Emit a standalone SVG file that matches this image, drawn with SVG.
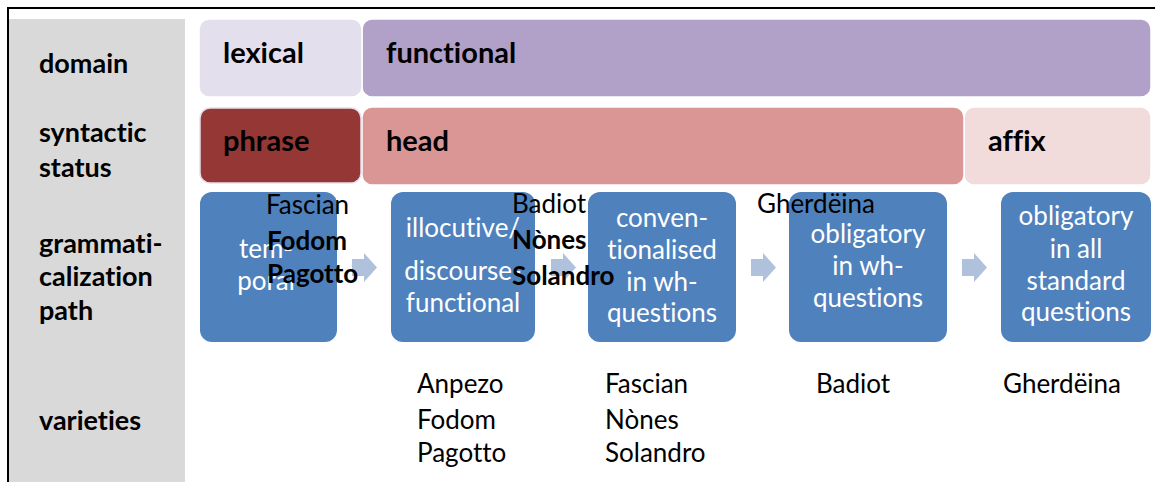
<svg xmlns="http://www.w3.org/2000/svg" width="1155" height="482" viewBox="0 0 1155 482">
  <style>
    text { font-variant-ligatures: none; font-feature-settings: "liga" 0, "clig" 0, "dlig" 0; }
    .lbl { font-family: Lato, "Liberation Sans", sans-serif; font-weight: bold; font-size: 27px; fill: #000; }
    .hdr { font-family: Lato, "Liberation Sans", sans-serif; font-weight: bold; font-size: 29px; fill: #000; }
    .wt { font-family: Lato, "Liberation Sans", sans-serif; font-size: 26px; fill: #fff; text-anchor: middle; }
    .bk { font-family: Lato, "Liberation Sans", sans-serif; font-size: 26px; fill: #000; }
    .bkb { font-family: Lato, "Liberation Sans", sans-serif; font-size: 26px; font-weight: bold; fill: #000; }
    .step { fill: #4F81BD; }
    .arrow { fill: #B0C1DC; }
    .band { stroke: #ffffff; stroke-width: 1.5; }
  </style>
  <rect x="0" y="0" width="1155" height="482" fill="#ffffff"/>
  <rect x="8" y="8" width="1170" height="490" fill="none" stroke="#000" stroke-width="2"/>
  <rect x="9" y="19" width="176" height="470" fill="#D9D9D9"/>

  <g id="row-labels">
    <text class="lbl" x="39" y="73">domain</text>
    <text class="lbl" x="39" y="142">syntactic</text>
    <text class="lbl" x="39" y="177">status</text>
    <text class="lbl" x="39" y="253">grammati-</text>
    <text class="lbl" x="39" y="286">calization</text>
    <text class="lbl" x="39" y="320">path</text>
    <text class="lbl" x="39" y="430">varieties</text>
  </g>

  <g id="functional">
    <rect class="band" x="362" y="19" width="789" height="78" rx="10" fill="#B1A0C7"/>
    <text class="hdr" x="386" y="63">functional</text>
  </g>
  <g id="lexical">
    <rect class="band" x="199" y="19" width="163" height="78" rx="10" fill="#E4DFEC"/>
    <text class="hdr" x="223" y="63">lexical</text>
  </g>
  <g id="affix">
    <rect class="band" x="964" y="107" width="187" height="78" rx="10" fill="#F2DCDB"/>
    <text class="hdr" x="988" y="151">affix</text>
  </g>
  <g id="head">
    <rect class="band" x="362" y="107" width="602" height="78" rx="10" fill="#DA9694"/>
    <text class="hdr" x="386" y="151">head</text>
  </g>
  <g id="phrase">
    <rect x="200" y="108" width="161" height="75" rx="10" fill="#953735" stroke="#E6E0EC" stroke-width="1.5"/>
    <text class="hdr" x="223" y="151">phrase</text>
  </g>

  <g id="step1">
    <rect class="step" x="200" y="192" width="137" height="150" rx="12"/>
    <text class="wt" x="266" y="258">tem-</text>
    <text class="wt" x="266" y="290">poral</text>
  </g>
  <g id="step2">
    <rect class="step" x="391" y="192" width="144" height="150" rx="12"/>
    <text class="wt" x="463" y="237">illocutive/</text>
    <text class="wt" x="463" y="280">discourse-</text>
    <text class="wt" x="463" y="312">functional</text>
  </g>
  <g id="step3">
    <rect class="step" x="588" y="192" width="148" height="150" rx="12"/>
    <text class="wt" x="662" y="227">conven-</text>
    <text class="wt" x="662" y="259">tionalised</text>
    <text class="wt" x="662" y="291">in wh-</text>
    <text class="wt" x="662" y="322">questions</text>
  </g>
  <g id="step4">
    <rect class="step" x="789" y="192" width="158" height="150" rx="12"/>
    <text class="wt" x="868" y="243">obligatory</text>
    <text class="wt" x="868" y="275">in wh-</text>
    <text class="wt" x="868" y="307">questions</text>
  </g>
  <g id="step5">
    <rect class="step" x="1001" y="192" width="150" height="150" rx="12"/>
    <text class="wt" x="1076" y="225">obligatory</text>
    <text class="wt" x="1076" y="258">in all</text>
    <text class="wt" x="1076" y="290">standard</text>
    <text class="wt" x="1076" y="321">questions</text>
  </g>

  <g id="connectors">
    <path class="arrow" d="M352,259 H364 V253 L377,267.5 L364,282 V276 H352 Z"/>
    <path class="arrow" d="M551,259 H563 V253 L576,267.5 L563,282 V276 H551 Z"/>
    <path class="arrow" d="M751,259 H763 V253 L776,267.5 L763,282 V276 H751 Z"/>
    <path class="arrow" d="M962,259 H974 V253 L987,267.5 L974,282 V276 H962 Z"/>
  </g>

  <g id="overlay-varieties">
    <text class="bk" x="266" y="214">Fascian</text>
    <text class="bkb" x="267" y="250">Fodom</text>
    <text class="bkb" x="267" y="283">Pagotto</text>
    <text class="bk" x="512" y="213">Badiot</text>
    <text class="bkb" x="512" y="249">Nònes</text>
    <text class="bkb" x="512" y="285">Solandro</text>
    <text class="bk" x="757" y="213">Gherdëina</text>
  </g>

  <g id="varieties">
    <text class="bk" x="417" y="393">Anpezo</text>
    <text class="bk" x="417" y="429">Fodom</text>
    <text class="bk" x="417" y="462">Pagotto</text>
    <text class="bk" x="605" y="393">Fascian</text>
    <text class="bk" x="605" y="429">Nònes</text>
    <text class="bk" x="605" y="462">Solandro</text>
    <text class="bk" x="816" y="393">Badiot</text>
    <text class="bk" x="1003" y="393">Gherdëina</text>
  </g>
</svg>
